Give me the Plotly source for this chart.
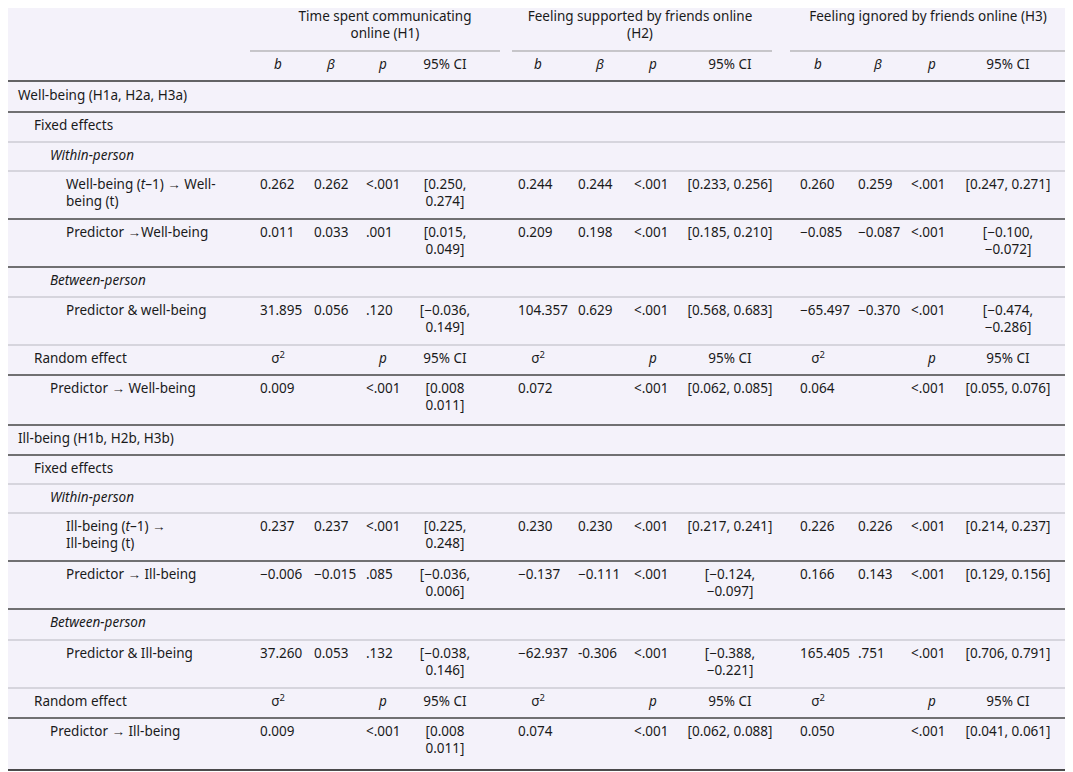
import plotly.graph_objects as go

# group headers and sub headers
groups = ["Time spent communicating<br>online (H1)",
          "Feeling supported by friends online<br>(H2)",
          "Feeling ignored by friends online (H3)"]
sub_fixed = ["<i>b</i>", "<i>β</i>", "<i>p</i>", "95% CI"]
sub_random = ["σ<sup>2</sup>", "", "<i>p</i>", "95% CI"]

# rows: label, indent level, values (12 cells)
labels = ["Well-being (H1a, H2a, H3a)", "Fixed effects", "<i>Within-person</i>",
          "Well-being (<i>t</i>–1) → Well-<br>being (t)", "Predictor →Well-being",
          "<i>Between-person</i>", "Predictor & well-being", "Random effect",
          "Predictor → Well-being",
          "Ill-being (H1b, H2b, H3b)", "Fixed effects", "<i>Within-person</i>",
          "Ill-being (<i>t</i>–1) →<br>Ill-being (t)", "Predictor → Ill-being",
          "<i>Between-person</i>", "Predictor & Ill-being", "Random effect",
          "Predictor → Ill-being"]
indent = [0, 1, 2, 3, 3, 2, 3, 1, 2, 0, 1, 2, 3, 3, 2, 3, 1, 2]
row_h = [30, 30, 29, 48, 48, 30, 48, 30, 50, 30, 29, 29, 48, 48, 31, 48, 30, 52]
light_below = [1, 2, 5, 6, 10, 11, 14, 15]

E = [""] * 12
values = [
    E, E, E,
    ["0.262", "0.262", "<.001", "[0.250,<br>0.274]", "0.244", "0.244", "<.001", "[0.233, 0.256]",
     "0.260", "0.259", "<.001", "[0.247, 0.271]"],
    ["0.011", "0.033", ".001", "[0.015,<br>0.049]", "0.209", "0.198", "<.001", "[0.185, 0.210]",
     "−0.085", "−0.087", "<.001", "[−0.100,<br>−0.072]"],
    E,
    ["31.895", "0.056", ".120", "[−0.036,<br>0.149]", "104.357", "0.629", "<.001", "[0.568, 0.683]",
     "−65.497", "−0.370", "<.001", "[−0.474,<br>−0.286]"],
    sub_random * 3,
    ["0.009", "", "<.001", "[0.008<br>0.011]", "0.072", "", "<.001", "[0.062, 0.085]",
     "0.064", "", "<.001", "[0.055, 0.076]"],
    E, E, E,
    ["0.237", "0.237", "<.001", "[0.225,<br>0.248]", "0.230", "0.230", "<.001", "[0.217, 0.241]",
     "0.226", "0.226", "<.001", "[0.214, 0.237]"],
    ["−0.006", "−0.015", ".085", "[−0.036,<br>0.006]", "−0.137", "−0.111", "<.001", "[−0.124,<br>−0.097]",
     "0.166", "0.143", "<.001", "[0.129, 0.156]"],
    E,
    ["37.260", "0.053", ".132", "[−0.038,<br>0.146]", "−62.937", "-0.306", "<.001", "[−0.388,<br>−0.221]",
     "165.405", ".751", "<.001", "[0.706, 0.791]"],
    sub_random * 3,
    ["0.009", "", "<.001", "[0.008<br>0.011]", "0.074", "", "<.001", "[0.062, 0.088]",
     "0.050", "", "<.001", "[0.041, 0.061]"],
]

# layout positions (pixels)
col_x = [260, 314, 366, 445, 518, 578, 634, 730, 800, 858, 911, 1008]
col_head = [278, 331, 383, 445, 538, 600, 653, 730, 818, 878, 932, 1008]
group_x = [385, 640, 928]
group_span = [(250, 500), (512, 772), (790, 1070)]
TOP, BODY0, RIGHT = 3, 82, 1072
LINE = 17
OFF = 8  # page offset of the plot div
font = dict(family="Noto Sans", size=13.5, color="#1a1a1a")

xs, ys, ts, pos = [], [], [], []

def add(x, y, text, p):
    for k, part in enumerate(text.split("<br>")):
        xs.append(x); ys.append(y + k * LINE); ts.append(part); pos.append(p)

for g, x in zip(groups, group_x):
    add(x, 18, g, "middle center")
for i, s in enumerate(sub_fixed * 3):
    add(col_head[i], 66, s, "middle center")

shapes = [dict(type="rect", x0=0, x1=RIGHT, y0=TOP, y1=770, fillcolor="#f4f2fa",
               line_width=0, layer="below")]
shapes.append(dict(type="line", x0=0, x1=RIGHT, y0=TOP, y1=TOP, line=dict(color="#111", width=2)))
for a, b in group_span:
    shapes.append(dict(type="line", x0=a, x1=b, y0=51, y1=51, line=dict(color="#999", width=1)))
shapes.append(dict(type="line", x0=0, x1=RIGHT, y0=81, y1=81, line=dict(color="#333", width=1.5)))

top = BODY0
for r, (lab, lev, vals, h) in enumerate(zip(labels, indent, values, row_h)):
    y = top + 15
    add(18 + 16 * lev, y, lab, "middle right")
    random_row = vals == sub_random * 3
    for c, v in enumerate(vals):
        if not v:
            continue
        if random_row:
            add(col_head[c], y, v, "middle center")
        elif c % 4 == 3:
            add(col_x[c], y, v, "middle center")
        else:
            add(col_x[c], y, v, "middle right")
    top += h
    light = r in light_below
    shapes.append(dict(type="line", x0=0, x1=RIGHT, y0=top, y1=top,
                       line=dict(color="#b8b8c0" if light else "#444",
                                 width=1 if light else 1.3)))
shapes[-1]["line"] = dict(color="#111", width=1.5)

fig = go.Figure(go.Scatter(x=xs, y=ys, text=ts, mode="text", textposition=pos,
                           textfont=font, hoverinfo="skip"))
fig.update_layout(width=1073, height=772, margin=dict(l=0, r=0, t=0, b=0),
                  plot_bgcolor="white", paper_bgcolor="white", shapes=shapes,
                  showlegend=False)
fig.update_xaxes(range=[OFF, 1073 + OFF], visible=False)
fig.update_yaxes(range=[772 + OFF, OFF], visible=False)
fig.write_html("out.html")
